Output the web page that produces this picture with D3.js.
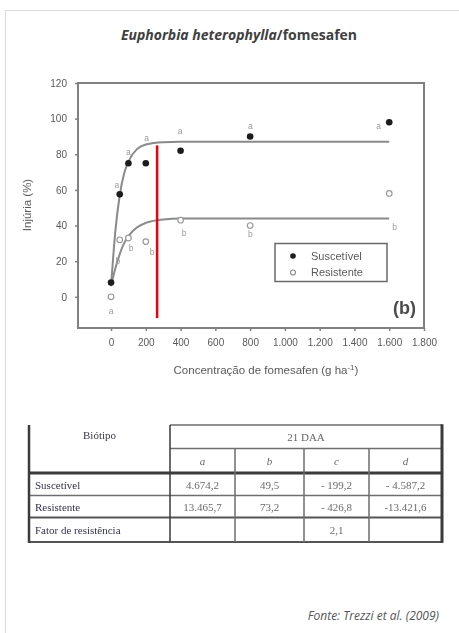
<!DOCTYPE html>
<html>
<head>
<meta charset="utf-8">
<script src="https://cdn.jsdelivr.net/npm/d3@7"></script>
<style>
  html, body { margin: 0; padding: 0; background: #fff; }
  svg { display: block; }
</style>
</head>
<body>
<svg id="chart" width="459" height="633"></svg>
<script>
// Dose–response of Euphorbia heterophylla to fomesafen (Trezzi et al., 2009)

// Measured injury (%) at each dose (g ha-1)
const doses = [0, 50, 100, 200, 400, 800, 1600];
const injurySusceptible = [8, 57.5, 75, 75, 82, 90, 98];
const injuryResistant = [0, 32, 33, 31, 43, 40, 58];

// Fitted response curves
const curveDoses = [0, 25, 50, 75, 100, 150, 200, 300, 400, 800, 1600];
const curveSusceptible = [6, 37, 57, 69, 76, 83, 85.5, 86.8, 87, 87, 87];
const curveResistant = [6, 16, 24, 30, 34, 39, 41.5, 43.4, 44, 44, 44];

// Significance letters (dose, injury, letter)
const letterDoses = [0, 33, 100, 205, 398, 801, 1539, 40, 115, 236, 421, 801, 1631];
const letterInjury = [-8, 63, 81, 89, 93, 96, 96, 20, 27.5, 25, 36, 35, 39];
const letterText = ["a", "a", "a", "a", "a", "a", "a", "b", "b", "b", "b", "b", "b"];

// Marker line at dose 265
const markerDose = 265;
const markerInjury = [-12, 85];

// Axis ticks
const xTicks = [0, 200, 400, 600, 800, 1000, 1200, 1400, 1600, 1800];
const xTickLabels = ["0", "200", "400", "600", "800", "1.000", "1.200", "1.400", "1.600", "1.800"];
const yTicks = [0, 20, 40, 60, 80, 100, 120];

// Legend
const seriesNames = ["Suscetível", "Resistente"];

// Parameter table
const tableColumns = ["a", "b", "c", "d"];
const biotypes = ["Suscetível", "Resistente", "Fator de resistência"];
const paramA = ["4.674,2", "13.465,7", ""];
const paramB = ["49,5", "73,2", ""];
const paramC = ["- 199,2", "- 426,8", "2,1"];
const paramD = ["- 4.587,2", "-13.421,6", ""];

const svg = d3.select("#chart");

const defs = svg.append("defs");
defs.append("filter").attr("id", "soft")
  .append("feGaussianBlur").attr("stdDeviation", 0.45);

// Card outline
svg.append("rect")
  .attr("x", 5.5).attr("y", 10.5).attr("width", 470).attr("height", 640)
  .attr("fill", "#fff").attr("stroke", "#dcdcdc").attr("stroke-width", 1);

// Title
const title = svg.append("text")
  .attr("x", 239).attr("y", 40)
  .attr("text-anchor", "middle")
  .attr("font-family", "'Open Sans', sans-serif")
  .attr("font-size", 14).attr("font-weight", "bold")
  .attr("fill", "#404040");
title.append("tspan").attr("font-style", "italic").text("Euphorbia heterophylla");
title.append("tspan").text("/fomesafen");

// ---------- Chart ----------
const plot = { left: 78, right: 424, top: 83, bottom: 328 };
const x = d3.scaleLinear().domain([-190, 1800]).range([plot.left, plot.right]);
const y = d3.scaleLinear().domain([-17.5, 120]).range([plot.bottom, plot.top]);

const fig = svg.append("g").attr("filter", "url(#soft)");
const axisColor = "#808080";
const textColor = "#5a5a5a";
const sans = "'Liberation Sans', Arial, sans-serif";

fig.append("rect")
  .attr("x", plot.left).attr("y", plot.top)
  .attr("width", plot.right - plot.left).attr("height", plot.bottom - plot.top)
  .attr("fill", "none").attr("stroke", axisColor).attr("stroke-width", 2);

const xAxis = fig.append("g")
  .attr("transform", `translate(0,${plot.bottom})`)
  .call(d3.axisBottom(x).tickValues(xTicks)
    .tickFormat((d, i) => xTickLabels[i]).tickSize(3).tickPadding(8));
const yAxis = fig.append("g")
  .attr("transform", `translate(${plot.left},0)`)
  .call(d3.axisLeft(y).tickValues(yTicks).tickSize(3).tickPadding(8));

[xAxis, yAxis].forEach(g => {
  g.select(".domain").remove();
  g.selectAll(".tick line").attr("stroke", axisColor).attr("stroke-width", 1.5);
  g.selectAll(".tick text")
    .attr("font-family", sans).attr("font-size", 10).attr("fill", textColor);
});

fig.append("text")
  .attr("x", 266).attr("y", 374)
  .attr("text-anchor", "middle")
  .attr("font-family", sans).attr("font-size", 11.5).attr("fill", textColor)
  .html("Concentração de fomesafen (g ha<tspan dy='-4' font-size='8'>-1</tspan><tspan dy='4'>)</tspan>");

fig.append("text")
  .attr("transform", `translate(31,205) rotate(-90)`)
  .attr("text-anchor", "middle")
  .attr("font-family", sans).attr("font-size", 11.5).attr("fill", textColor)
  .text("Injúria (%)");

// Fitted curves
const line = d3.line()
  .x((d, i) => x(curveDoses[i]))
  .y(d => y(d))
  .curve(d3.curveMonotoneX);

fig.append("path").datum(curveSusceptible)
  .attr("d", line).attr("fill", "none")
  .attr("stroke", "#8a8a8a").attr("stroke-width", 2);
fig.append("path").datum(curveResistant)
  .attr("d", line).attr("fill", "none")
  .attr("stroke", "#8a8a8a").attr("stroke-width", 2);

// Observed points
fig.append("g").selectAll("circle")
  .data(injuryResistant).join("circle")
  .attr("cx", (d, i) => x(doses[i])).attr("cy", d => y(d))
  .attr("r", 2.8).attr("fill", "#fff")
  .attr("stroke", "#9a9a9a").attr("stroke-width", 1.2);
fig.append("g").selectAll("circle")
  .data(injurySusceptible).join("circle")
  .attr("cx", (d, i) => x(doses[i])).attr("cy", d => y(d))
  .attr("r", 3.3).attr("fill", "#1e1e1e");

// Letters
fig.append("g").selectAll("text")
  .data(letterText).join("text")
  .attr("x", (d, i) => x(letterDoses[i]))
  .attr("y", (d, i) => y(letterInjury[i]))
  .attr("dy", "0.35em").attr("text-anchor", "middle")
  .attr("font-family", sans).attr("font-size", 8.5).attr("fill", "#9a9a9a")
  .text(d => d);

// Legend
const legend = fig.append("g");
legend.append("rect")
  .attr("x", 275).attr("y", 243.5).attr("width", 112).attr("height", 38)
  .attr("fill", "#fff").attr("stroke", "#6a6a6a").attr("stroke-width", 1.5);
const legendRows = legend.selectAll("g").data(seriesNames).join("g")
  .attr("transform", (d, i) => `translate(293,${256 + i * 16.5})`);
legendRows.append("circle")
  .attr("r", (d, i) => i === 0 ? 2.8 : 2.5)
  .attr("fill", (d, i) => i === 0 ? "#1e1e1e" : "#fff")
  .attr("stroke", (d, i) => i === 0 ? "none" : "#8a8a8a")
  .attr("stroke-width", 1.2);
legendRows.append("text")
  .attr("x", 18).attr("dy", "0.35em")
  .attr("font-family", sans).attr("font-size", 11).attr("fill", textColor)
  .text(d => d);

fig.append("text")
  .attr("x", 416).attr("y", 314)
  .attr("text-anchor", "end")
  .attr("font-family", sans).attr("font-size", 18).attr("font-weight", "bold")
  .attr("fill", "#4a4a4a")
  .text("(b)");

// Marker line (drawn sharp, on top)
svg.append("line")
  .attr("x1", x(markerDose)).attr("x2", x(markerDose))
  .attr("y1", y(markerInjury[1])).attr("y2", y(markerInjury[0]))
  .attr("stroke", "#e8000b").attr("stroke-width", 2.5);

// ---------- Parameter table ----------
const serif = "'Liberation Serif', 'Times New Roman', serif";
const colX = [29, 170, 235, 304, 369, 442];
const rowY = { top: 425, sub: 448.5, head: 473, r1: 495.5, r2: 517.5, bottom: 542 };
const tbl = svg.append("g").attr("filter", "url(#soft)");
const thin = "#6e6e6e";
const thick = "#3a3a3a";

function hline(x1, x2, yy, w, c) {
  tbl.append("line").attr("x1", x1).attr("x2", x2).attr("y1", yy).attr("y2", yy)
    .attr("stroke", c).attr("stroke-width", w);
}
function vline(xx, y1, y2, w, c) {
  tbl.append("line").attr("x1", xx).attr("x2", xx).attr("y1", y1).attr("y2", y2)
    .attr("stroke", c).attr("stroke-width", w);
}

hline(colX[1], colX[5], rowY.top, 1.5, thin);
hline(colX[1], colX[5], rowY.sub, 1.5, thin);
hline(colX[0], colX[5], rowY.head, 3, thick);
hline(colX[0], colX[5], rowY.r1, 1.5, thin);
hline(colX[0], colX[5], rowY.r2, 2, "#555");
hline(colX[0], colX[5], rowY.bottom, 1.8, "#555");
vline(colX[0], rowY.top, rowY.bottom + 0.9, 2.5, thick);
vline(colX[1], rowY.top, rowY.bottom, 1.5, thick);
vline(colX[2], rowY.sub, rowY.bottom, 1.5, thin);
vline(colX[3], rowY.sub, rowY.bottom, 1.5, thin);
vline(colX[4], rowY.sub, rowY.bottom, 1.5, thin);
vline(colX[5], rowY.top - 0.75, rowY.bottom + 0.9, 3, thick);

tbl.append("text")
  .attr("x", (colX[0] + colX[1]) / 2).attr("y", 439)
  .attr("text-anchor", "middle")
  .attr("font-family", serif).attr("font-size", 11).attr("fill", "#3a3a4a")
  .text("Biótipo");
tbl.append("text")
  .attr("x", (colX[1] + colX[5]) / 2).attr("y", 441)
  .attr("text-anchor", "middle")
  .attr("font-family", serif).attr("font-size", 11).attr("fill", "#666")
  .text("21 DAA");
tbl.selectAll(".colhead").data(tableColumns).join("text")
  .attr("class", "colhead")
  .attr("x", (d, i) => (colX[i + 1] + colX[i + 2]) / 2).attr("y", 465)
  .attr("text-anchor", "middle")
  .attr("font-family", serif).attr("font-size", 11).attr("font-style", "italic")
  .attr("fill", "#666")
  .text(d => d);

const rowBase = [489, 510.5, 534];
tbl.selectAll(".rowlabel").data(biotypes).join("text")
  .attr("class", "rowlabel")
  .attr("x", 35).attr("y", (d, i) => rowBase[i])
  .attr("font-family", serif).attr("font-size", 11).attr("fill", "#33334a")
  .text(d => d);

[paramA, paramB, paramC, paramD].forEach((col, c) => {
  tbl.selectAll(".val" + c).data(col).join("text")
    .attr("class", "val" + c)
    .attr("x", (colX[c + 1] + colX[c + 2]) / 2)
    .attr("y", (d, i) => rowBase[i])
    .attr("text-anchor", "middle")
    .attr("font-family", serif).attr("font-size", 11).attr("fill", "#6a6a6a")
    .text(d => d);
});

// Source
svg.append("text")
  .attr("x", 439).attr("y", 620)
  .attr("text-anchor", "end")
  .attr("font-family", "'Open Sans', sans-serif")
  .attr("font-size", 12).attr("font-style", "italic")
  .attr("fill", "#555")
  .text("Fonte: Trezzi et al. (2009)");
</script>
</body>
</html>
